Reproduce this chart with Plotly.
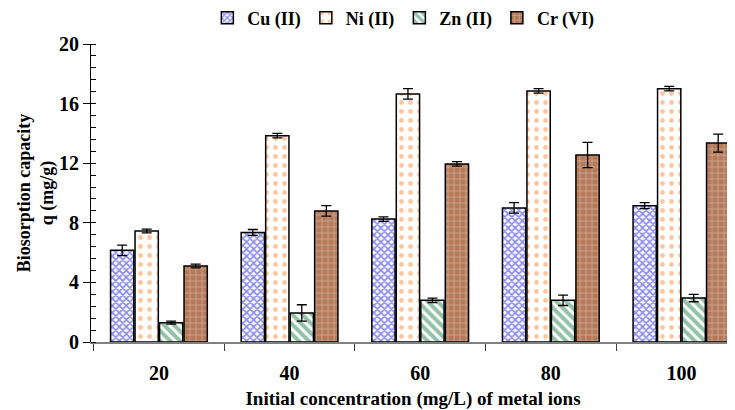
import plotly.graph_objects as go

categories = ["20", "40", "60", "80", "100"]
series_names = ["Cu (II)", "Ni (II)", "Zn (II)", "Cr (VI)"]
cu = [6.15, 7.35, 8.25, 9.0, 9.15]
ni = [7.45, 13.85, 16.65, 16.85, 17.0]
zn = [1.3, 1.95, 2.8, 2.8, 2.95]
cr = [5.1, 8.8, 11.95, 12.55, 13.35]
cu_err = [0.35, 0.2, 0.15, 0.35, 0.2]
ni_err = [0.12, 0.15, 0.35, 0.15, 0.15]
zn_err = [0.1, 0.55, 0.15, 0.35, 0.25]
cr_err = [0.12, 0.35, 0.15, 0.85, 0.6]

font = "Liberation Serif"

styles = [
    dict(bg="white", fg="#2323e6", shape="x", size=5, sol=0.6),
    dict(bg="white", fg="#ff8c3a", shape=".", size=9, sol=0.22),
    dict(bg="white", fg="#2a8554", shape="\\", size=7, sol=0.58),
    dict(bg="#b47a5a", fg="#f4e6dc", shape="+", size=6, sol=0.22),
]

fig = go.Figure()
for name, vals, errs, st in zip(series_names, [cu, ni, zn, cr],
                                [cu_err, ni_err, zn_err, cr_err], styles):
    fig.add_trace(go.Bar(
        x=categories, y=vals, name=name,
        marker=dict(color=st["bg"], line=dict(color="black", width=1.5),
                    pattern=dict(shape=st["shape"], fgcolor=st["fg"], bgcolor=st["bg"],
                                 size=st["size"], solidity=st["sol"], fillmode="overlay")),
        error_y=dict(type="data", array=errs, visible=True, color="black",
                     thickness=1.3, width=5),
    ))

fig.update_layout(
    width=727, height=402,
    margin=dict(l=83, r=0, t=36, b=68, autoexpand=False),
    plot_bgcolor="white", paper_bgcolor="white",
    barmode="group", bargap=0.25, bargroupgap=0.05,
    font=dict(family=font, color="black"),
    legend=dict(orientation="h", x=0.485, xanchor="center", y=0.975, yanchor="middle",
                yref="container",
                font=dict(family=font, size=18, weight="bold"),
                itemwidth=30, traceorder="normal"),
    showlegend=True,
)

fig.update_xaxes(
    type="category", range=[-0.52, 4.41],
    showline=True, linecolor="#808080", linewidth=1.5,
    ticks="outside", tickson="boundaries", ticklen=7, tickcolor="#404040",
    tickfont=dict(family=font, size=20, weight="bold"),
    ticklabelstandoff=12,
    showgrid=False,
    title=dict(text="Initial concentration (mg/L) of metal ions",
               font=dict(family=font, size=19, weight="bold"), standoff=12),
)
fig.update_yaxes(
    range=[0, 20], tickvals=[0, 4, 8, 12, 16, 20],
    showline=True, linecolor="black", linewidth=1,
    ticks="outside", ticklen=7, tickcolor="black",
    minor=dict(dtick=0.8, ticks="inside", ticklen=5, tickcolor="black"),
    tickfont=dict(family=font, size=20, weight="bold"),
    showgrid=False, zeroline=False,
    title=dict(text="Biosorption capacity<br>q (mg/g)",
               font=dict(family=font, size=18, weight="bold"), standoff=0),
)

fig.write_html("out.html")
